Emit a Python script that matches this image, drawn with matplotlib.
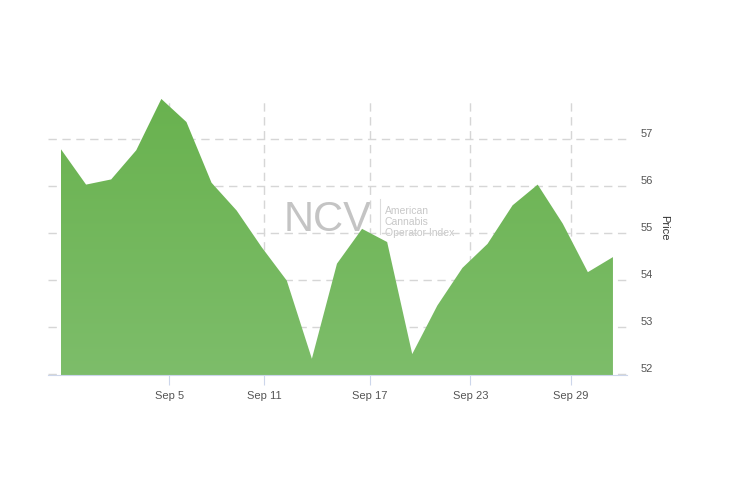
import numpy as np
import matplotlib.pyplot as plt
from matplotlib.colors import LinearSegmentedColormap

# Price series, one point per trading day
prices = [56.78, 56.03, 56.14, 56.76, 57.85, 57.36, 56.07, 55.48, 54.70, 53.99,
          52.33, 54.35, 55.09, 54.81, 52.43, 53.46, 54.26, 54.77, 55.59, 56.03,
          55.20, 54.17, 54.49]
# date ticks sit between trading days, so they are given as point positions
tick_pos = [4.31, 8.11, 12.32, 16.32, 20.33]
tick_labels = ['Sep 5', 'Sep 11', 'Sep 17', 'Sep 23', 'Sep 29']
y_ticks = [52, 53, 54, 55, 56, 57]

plt.rcParams['font.family'] = ['Liberation Sans', 'DejaVu Sans']

fig = plt.figure(figsize=(7.41, 4.81), dpi=100)
W, H = 741, 481
ax = fig.add_axes([48 / W, 1 - 376 / H, (627 - 48) / W, (376 - 99) / H])

x = np.arange(len(prices))
ymin, ymax = 51.985, 57.87

# grid
grid_kw = dict(color='#d6d6d6', lw=1, dashes=(6, 4), zorder=1)
for y in y_ticks:
    ax.axhline(y, **grid_kw)
for t in tick_pos:
    ax.axvline(t, **grid_kw)

# watermark
ax.text(0.559, 0.563, 'NCV', transform=ax.transAxes, fontsize=30,
        color='#c4c4c4', ha='right', va='center', zorder=0.5)
ax.plot([0.573, 0.573], [0.509, 0.635], transform=ax.transAxes,
        color='#dddddd', lw=0.8, zorder=0.5)
ax.text(0.582, 0.556, 'American\nCannabis\nOperator Index', transform=ax.transAxes,
        fontsize=7.5, color='#c8c8c8', ha='left', va='center', linespacing=1.1,
        zorder=0.5)

# area with a soft vertical gradient
poly = ax.fill_between(x, prices, ymin, color='none', lw=0)
cmap = LinearSegmentedColormap.from_list('g', ['#7dbd6a', '#69b24f'])
grad = np.linspace(0, 1, 256).reshape(-1, 1)
img = ax.imshow(grad, cmap=cmap, origin='lower', aspect='auto',
                extent=[x[0], x[-1], ymin, max(prices)], zorder=2)
img.set_clip_path(poly.get_paths()[0], transform=ax.transData)
ax.set_xlim(-0.518, 22.56)
ax.set_ylim(ymin, ymax)

# axes styling
for s in ['top', 'left', 'right']:
    ax.spines[s].set_visible(False)
ax.spines['bottom'].set_color('#ccd6eb')
ax.spines['bottom'].set_zorder(3)
ax.set_yticks([])
ax.set_xticks(tick_pos)
ax.set_xticklabels(tick_labels)
ax.tick_params(axis='x', length=7, color='#ccd6eb', labelsize=8,
               labelcolor='#555555', pad=4)

# y labels on the right, lifted above their grid lines
for y in y_ticks:
    ax.annotate(str(y), xy=(1, y), xycoords=('axes fraction', 'data'),
                xytext=(10, 4.5), textcoords='offset points',
                ha='left', va='center', fontsize=8, color='#555555')

fig.text(664 / W, 1 - 228 / H, 'Price', rotation=270, ha='center', va='center',
         fontsize=8, color='#333333')

fig.savefig('out.png', dpi=100)
